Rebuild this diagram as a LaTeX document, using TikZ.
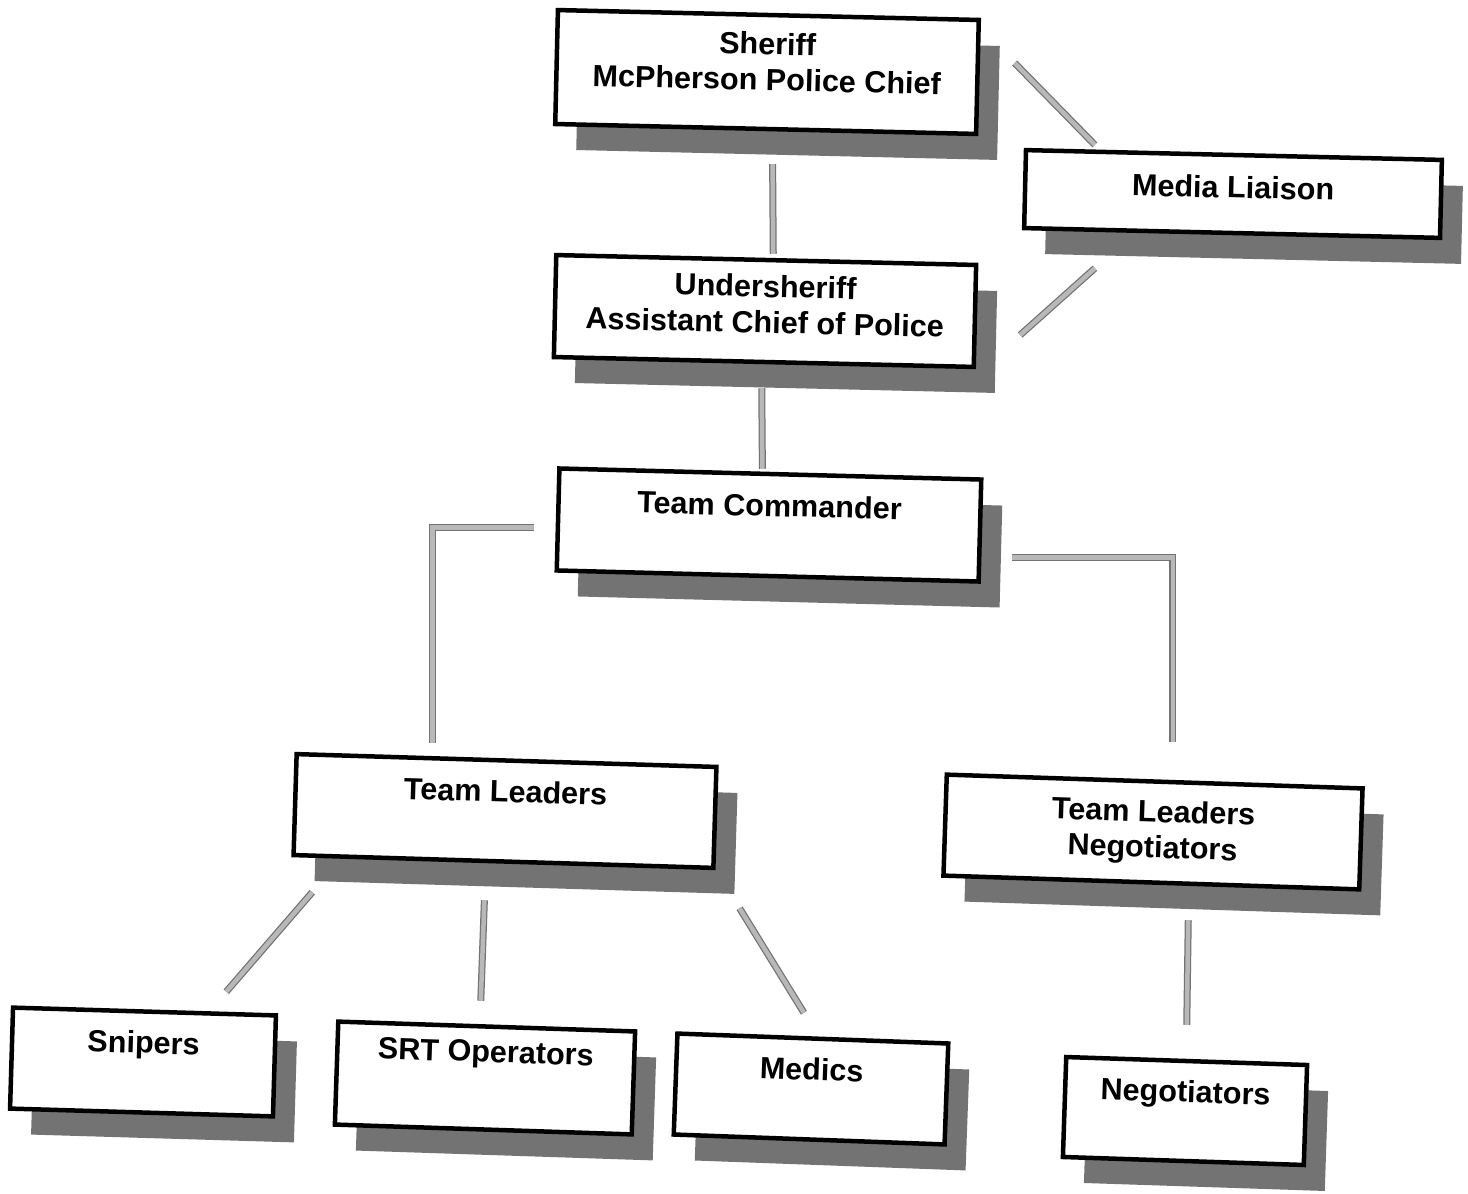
\documentclass[tikz,border=0pt]{standalone}
\usepackage{xcolor}
\usepackage{fontspec}
\setmainfont{Liberation Sans}
\usepackage{tikz}
\usetikzlibrary{positioning,shadows}

\begin{document}
\begin{tikzpicture}[
      orgbox/.style={draw=black, line width=0.09cm, fill=white, align=center, inner sep=0pt,
        font=\bfseries\fontsize{17.4}{20.4}\selectfont,
        drop shadow={shadow xshift=0.42cm, shadow yshift=-0.52cm, fill=black!55, opacity=1}},
      oneline/.style={text height=13pt, text depth=23pt},
      link/.style={draw=black!55, line width=0.025cm, double=black!28, double distance=0.09cm}
    ]
      \useasboundingbox (0, 0) rectangle (29.36, -23.88);

      \coordinate (A1) at (15.34, -1.44);
      \coordinate (A2) at (24.66, -3.88);
      \coordinate (B1) at (15.30, -6.22);
      \coordinate (C1) at (15.38, -10.50);

      \coordinate (D1) at (10.10, -16.22);
      \coordinate (D2) at (23.06, -16.64);

      \coordinate (E1) at (2.86, -21.24);
      \coordinate (E2) at (9.70, -21.56);
      \coordinate (E3) at (16.22, -21.78);
      \coordinate (E4) at (23.70, -22.22);

      \node [orgbox, minimum width=8.42cm, minimum height=2.28cm, rotate=-1.35, text depth=12pt] (Sh) at (A1) {Sheriff\\McPherson Police Chief};
      \node [orgbox, minimum width=8.32cm, minimum height=1.56cm, rotate=-1.35, text height=13pt, text depth=8.4pt] (Med) at (A2) {Media Liaison};
      \node [orgbox, minimum width=8.40cm, minimum height=2.04cm, rotate=-1.35, text depth=8pt] (Und) at (B1) {Undersheriff\\Assistant Chief of Police};
      \node [orgbox, oneline, minimum width=8.44cm, minimum height=2.04cm, rotate=-1.5] (Cmd) at (C1) {Team Commander};

      \node [orgbox, oneline, minimum width=8.40cm, minimum height=2.02cm, rotate=-1.75] (TL) at (D1) {Team Leaders};
      \node [orgbox, minimum width=8.32cm, minimum height=2.02cm, rotate=-1.9] (TLN) at (D2) {Team Leaders\\Negotiators};

      \node [orgbox, oneline, minimum width=5.26cm, minimum height=2.02cm, rotate=-1.7] (Snp) at (E1) {Snipers};
      \node [orgbox, oneline, minimum width=5.94cm, minimum height=2.06cm, rotate=-1.9, text depth=31pt] (SRT) at (E2) {SRT Operators};
      \node [orgbox, oneline, minimum width=5.42cm, minimum height=2.02cm, rotate=-2.1] (Mdc) at (E3) {Medics};
      \node [orgbox, oneline, minimum width=4.82cm, minimum height=2.00cm, rotate=-1.9] (Neg) at (E4) {Negotiators};

      \draw [link] ([shift={(0.14,-0.66)}]Sh.south) -- ([shift={(0.14,0.08)}]Und.north);
      \draw [link] ([shift={(0.70,0.28)}]Sh.east) -- ([shift={(1.42,0.06)}]Med.north west);
      \draw [link] ([shift={(0.86,-0.38)}]Und.east) -- ([shift={(1.46,-0.76)}]Med.south west);
      \draw [link] ([shift={(-0.04,-0.48)}]Und.south) -- ([shift={(-0.16,0.06)}]Cmd.north);

      \draw [link] ([shift={(-0.44,-0.16)}]Cmd.west) -| ([shift={(-1.48,0.30)}]TL.north);
      \draw [link] ([shift={(0.60,-0.54)}]Cmd.east) -| ([shift={(0.36,0.74)}]TLN.north);

      \draw [link] ([shift={(0.42,-0.70)}]TL.south west) -- ([shift={(-1.04,0.43)}]Snp.north east);
      \draw [link] ([shift={(-0.38,-0.73)}]TL.south) -- ([shift={(-0.12,0.47)}]SRT.north);
      \draw [link] ([shift={(0.48,-0.76)}]TL.south east) -- ([shift={(-0.18,0.47)}]Mdc.north);
      \draw [link] ([shift={(0.74,-0.71)}]TLN.south) -- ([shift={(0.00,0.68)}]Neg.north);
    \end{tikzpicture}
\end{document}
